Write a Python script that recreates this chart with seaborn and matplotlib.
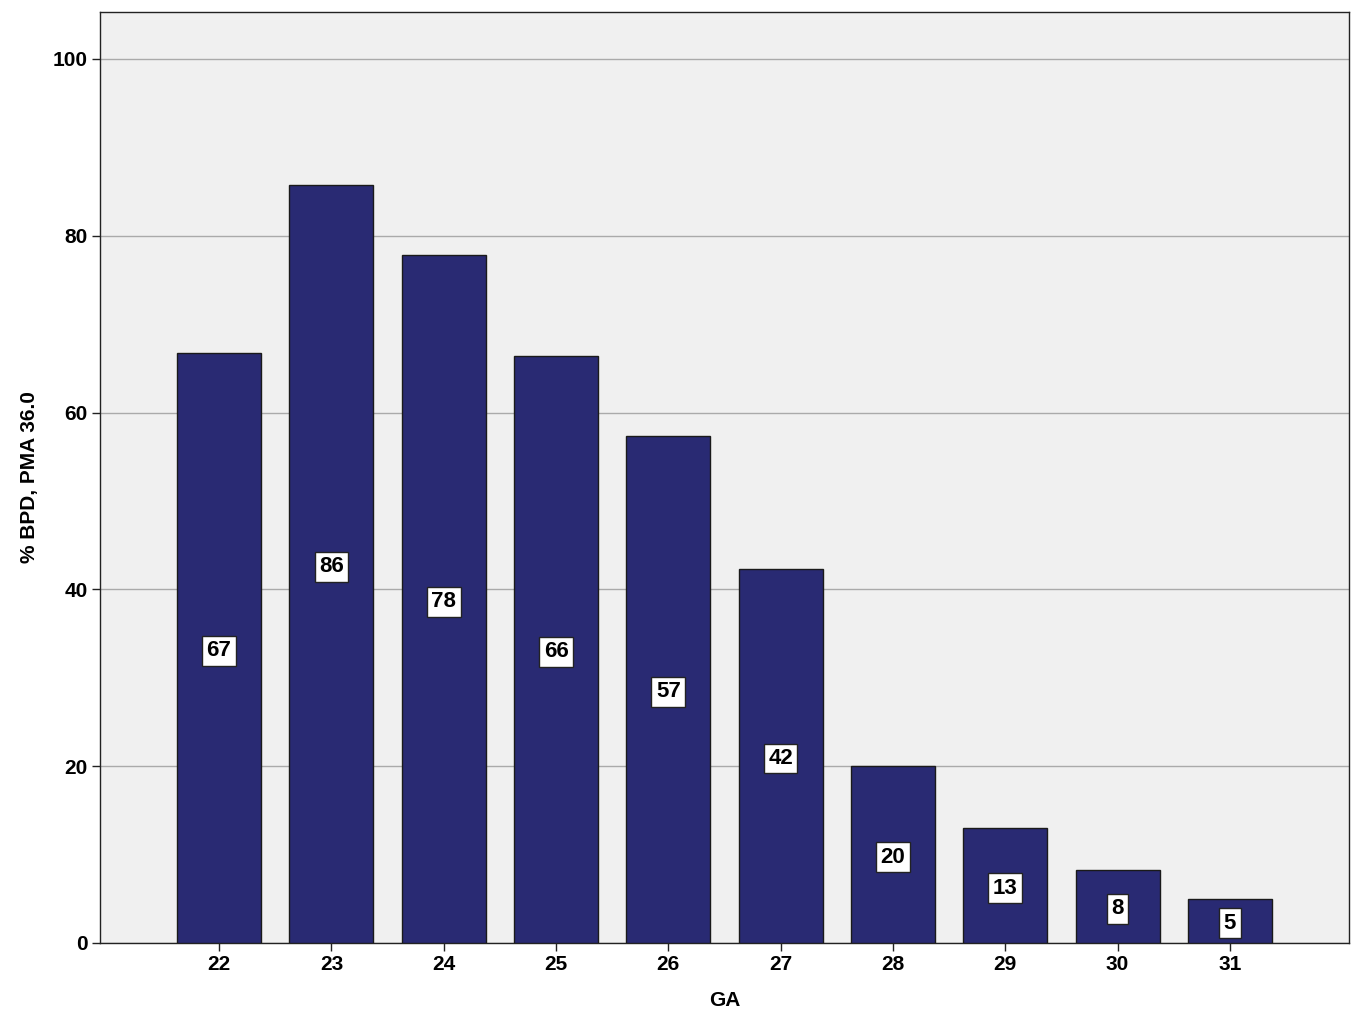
import matplotlib
matplotlib.use("Agg")
import matplotlib.pyplot as plt
import seaborn as sns
import pandas as pd

ga = ["22", "23", "24", "25", "26", "27", "28", "29", "30", "31"]
pct = [66.7, 85.7, 77.8, 66.4, 57.4, 42.3, 20.0, 13.0, 8.3, 5.0]
labels = ["67", "86", "78", "66", "57", "42", "20", "13", "8", "5"]

df = pd.DataFrame({"GA": ga, "pct": pct})

sns.set_style("white")
plt.rcParams['font.family'] = ['Liberation Sans', 'DejaVu Sans']
plt.rcParams['font.weight'] = 'bold'
plt.rcParams['text.color'] = 'black'
plt.rcParams['axes.labelcolor'] = 'black'
plt.rcParams['xtick.color'] = 'black'
plt.rcParams['ytick.color'] = 'black'

fig = plt.figure(figsize=(13.65, 10.31), dpi=100)
ax = fig.add_axes([100/1365, 1-943/1031, (1349-100)/1365, (943-12)/1031])
ax.set_facecolor("#F0F0F0")

sns.barplot(data=df, x="GA", y="pct", order=ga, color="#292A73", saturation=1,
            width=0.75, edgecolor="#1a1a1a", linewidth=1.0, ax=ax, zorder=3)

ax.set_ylim(0, 105.3)
ax.set_xlim(-1.06, 10.06)
ax.set_yticks([0, 20, 40, 60, 80, 100])
ax.grid(axis="y", color="#AAAAAA", linewidth=1.0, zorder=0)
ax.set_axisbelow(True)

for i, (v, lab) in enumerate(zip(pct, labels)):
    ax.text(i, v / 2, lab, ha="center", va="center_baseline", fontsize=16, fontweight="bold",
            color="black", zorder=5,
            bbox=dict(boxstyle="square,pad=0.2", facecolor="white", edgecolor="#222222", linewidth=1.0))

for s in ax.spines.values():
    s.set_visible(True)
    s.set_color("#222222")
    s.set_linewidth(1.0)

ax.tick_params(axis="both", which="both", direction="out", length=6, width=1.0,
               color="#222222", labelcolor="black", labelsize=15, pad=3, bottom=True, left=True)
for t in ax.get_xticklabels() + ax.get_yticklabels():
    t.set_fontweight("bold")

ax.set_xlabel("GA", fontsize=15, fontweight="bold", labelpad=12, color="black")
ax.set_ylabel("% BPD, PMA 36.0", fontsize=15, fontweight="bold", labelpad=10, color="black")

fig.savefig("out.png", dpi=100)
